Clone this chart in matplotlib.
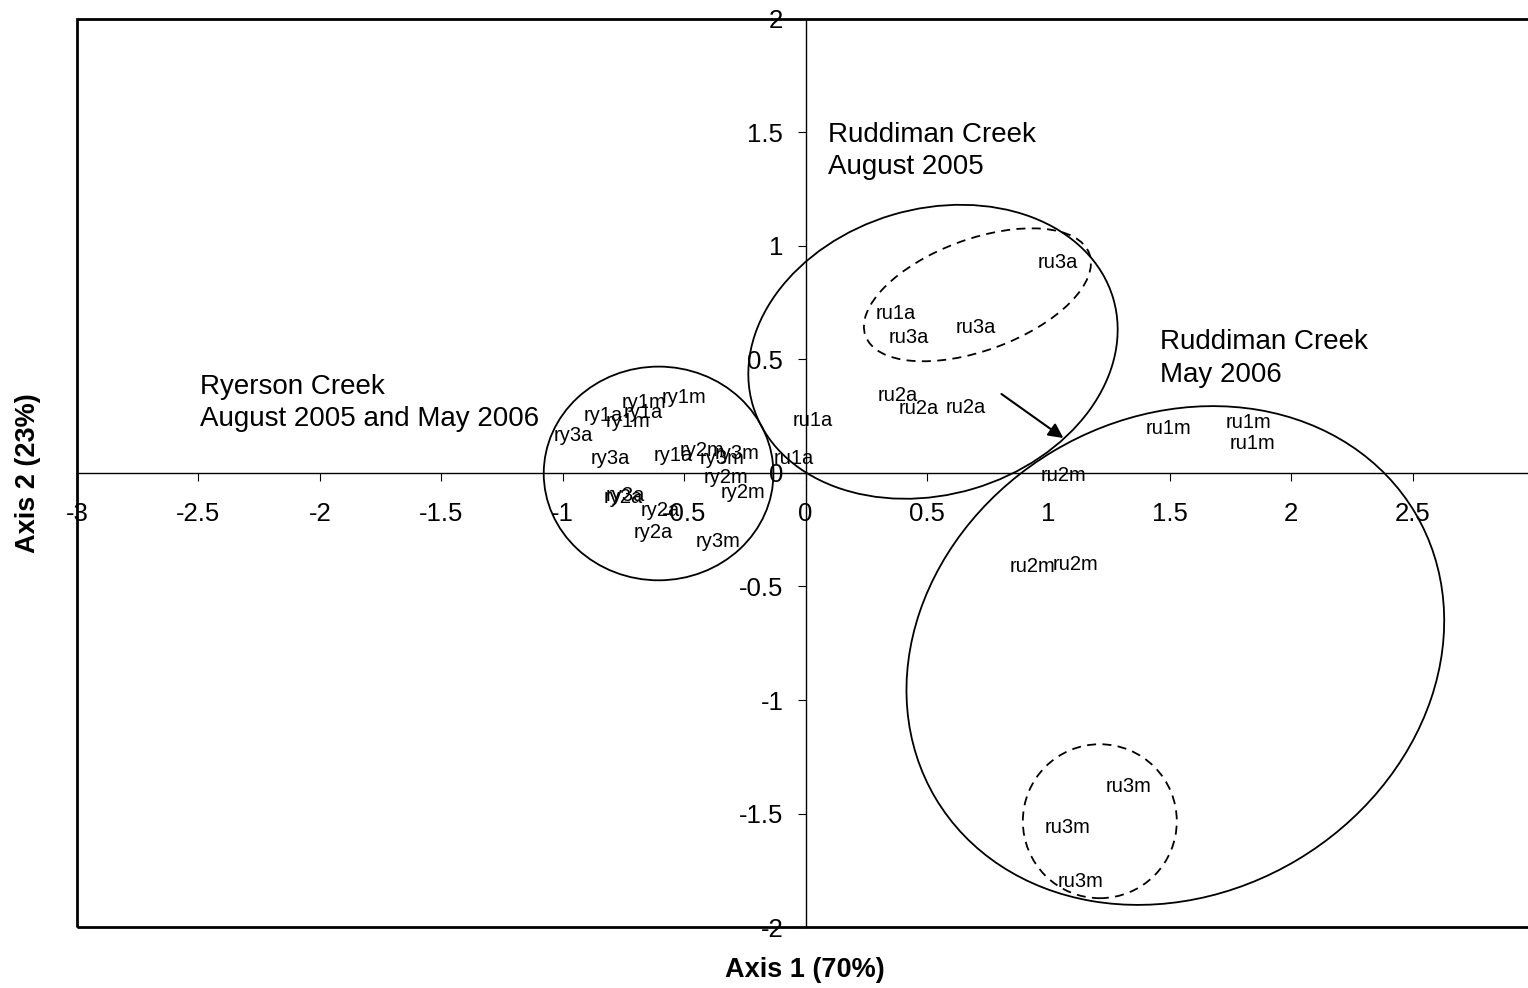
"""Ordination plot of Ryerson and Ruddiman Creek samples (axis 1 vs axis 2)"""
import matplotlib
matplotlib.use('Agg')
from matplotlib import pyplot as plt
from matplotlib.patches import Ellipse, Rectangle
from matplotlib.transforms import Affine2D
from matplotlib.ticker import FuncFormatter, MultipleLocator

plt.rcParams['font.family'] = ['Liberation Sans', 'DejaVu Sans']

# Sample scores on the two axes (Ryerson Creek)
ry_labels = ['ry1m', 'ry1m', 'ry1a', 'ry1a', 'ry1m', 'ry3a', 'ry3a', 'ry1a', 'ry2m',
             'ry3m', 'ry3m', 'ry2m', 'ry2m', 'ry3a', 'ry2a', 'ry2a', 'ry2a', 'ry3m']
ry_x = [-0.667, -0.502, -0.831, -0.667, -0.733, -0.955, -0.802, -0.543, -0.428,
        -0.280, -0.342, -0.329, -0.259, -0.741, -0.749, -0.597, -0.626, -0.362]
ry_y = [0.312, 0.334, 0.255, 0.268, 0.229, 0.167, 0.066, 0.079, 0.097,
        0.088, 0.066, -0.022, -0.084, -0.097, -0.110, -0.163, -0.264, -0.303]

# Ruddiman Creek, August 2005
ru_aug_labels = ['ru1a', 'ru1a', 'ru1a', 'ru2a', 'ru2a', 'ru2a', 'ru3a', 'ru3a', 'ru3a']
ru_aug_x = [0.370, 0.029, -0.049, 0.379, 0.465, 0.658, 1.041, 0.424, 0.700]
ru_aug_y = [0.703, 0.233, 0.062, 0.343, 0.286, 0.290, 0.927, 0.598, 0.642]

# Ruddiman Creek, May 2006
ru_may_labels = ['ru1m', 'ru1m', 'ru1m', 'ru2m', 'ru2m', 'ru2m', 'ru3m', 'ru3m', 'ru3m']
ru_may_x = [1.494, 1.823, 1.840, 1.062, 0.934, 1.111, 1.329, 1.078, 1.132]
ru_may_y = [0.198, 0.224, 0.132, -0.009, -0.413, -0.404, -1.380, -1.560, -1.798]

FIG_W, FIG_H = 15.28, 9.88
AX_POS = [77 / 1528, 61 / 988, 1457 / 1528, 908 / 988]

fig = plt.figure(figsize=(FIG_W, FIG_H), dpi=100)
ax = fig.add_axes(AX_POS)
ax.set_xlim(-3, 3)
ax.set_ylim(-2, 2)

# axes cross at the origin, plot area gets its own border
for side in ['top', 'right']:
    ax.spines[side].set_visible(False)
ax.spines['left'].set_position(('data', 0))
ax.spines['bottom'].set_position(('data', 0))
ax.spines['left'].set_linewidth(1)
ax.spines['bottom'].set_linewidth(1)
ax.add_patch(Rectangle((0, 0), 1, 1, transform=ax.transAxes, fill=False,
                       lw=2, ec='black', clip_on=False, zorder=5))

ax.xaxis.set_major_locator(MultipleLocator(0.5))
ax.yaxis.set_major_locator(MultipleLocator(0.5))
fmt = FuncFormatter(lambda v, pos: f"{v:g}")
ax.xaxis.set_major_formatter(fmt)
ax.yaxis.set_major_formatter(fmt)
ax.tick_params(axis='x', labelsize=18.5, length=6, width=0.8, pad=15)
ax.tick_params(axis='y', labelsize=18.5, length=6, width=0.8, pad=10)

# sample labels (no markers, only the text)
for labels, xs, ys in [(ry_labels, ry_x, ry_y),
                       (ru_aug_labels, ru_aug_x, ru_aug_y),
                       (ru_may_labels, ru_may_x, ru_may_y)]:
    for lab, x, y in zip(labels, xs, ys):
        ax.text(x, y, lab, fontsize=14.5, ha='center', va='center')

# ellipses are sized in x-axis units so the tilt looks right on screen
k = (FIG_W * AX_POS[2] / 6) / (FIG_H * AX_POS[3] / 4)


def ring(cx, cy, a, b, angle, ls='-'):
    tr = Affine2D().rotate_deg(angle).scale(1, k).translate(cx, cy) + ax.transData
    ax.add_patch(Ellipse((0, 0), 2 * a, 2 * b, transform=tr, fill=False,
                         ec='black', lw=1.3, ls=ls))


dash = (0, (5, 3.5))
ring(-0.605, -0.002, 0.473, 0.440, 0)
ring(0.525, 0.534, 0.774, 0.588, 16.6)
ring(0.708, 0.785, 0.491, 0.229, 20.2, ls=dash)
ring(1.523, -0.804, 1.149, 0.980, 30.8)
ring(1.212, -1.534, 0.317, 0.317, 0, ls=dash)

ax.annotate('', xy=(1.062, 0.154), xytext=(0.807, 0.348),
            arrowprops=dict(arrowstyle='-|>', color='black', lw=1.5,
                            mutation_scale=22, shrinkA=0, shrinkB=0))

group_font = dict(fontsize=20, ha='left', va='center', linespacing=1.32)
ax.text(0.091, 1.418, 'Ruddiman Creek\nAugust 2005', **group_font)
ax.text(1.461, 0.505, 'Ruddiman Creek\nMay 2006', **group_font)
ax.text(-2.494, 0.308, 'Ryerson Creek\nAugust 2005 and May 2006', **group_font)

fig.text(805 / 1528, 1 - 970 / 988, 'Axis 1 (70%)', fontsize=19.5, fontweight='bold',
         ha='center', va='center')
fig.text(28 / 1528, 1 - 473 / 988, 'Axis 2 (23%)', fontsize=19.5, fontweight='bold',
         ha='center', va='center', rotation=90)

plt.savefig('out.png', dpi=100)
